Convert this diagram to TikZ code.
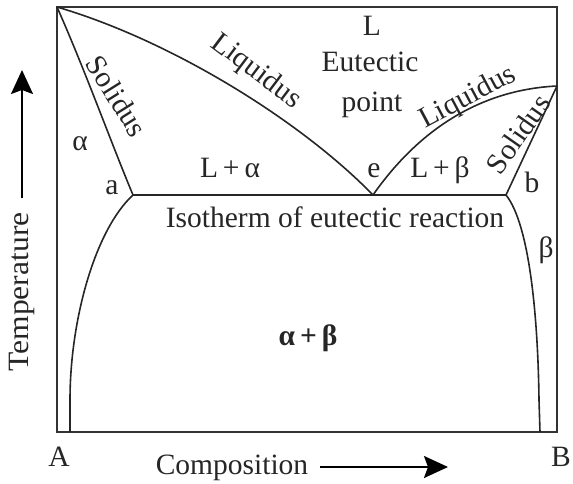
\documentclass[tikz,border=0pt]{standalone}
\usepackage{fontspec}
\setmainfont{Liberation Serif}
\usetikzlibrary{arrows.meta}
\begin{document}
\begin{tikzpicture}[x=1pt,y=-1pt,
  ink/.style={draw=black!85, line width=1.6pt},
  frame/.style={draw=black!80, line width=2.2pt},
  lab/.style={inner sep=0pt, anchor=base, font=\fontsize{29.5}{30}\selectfont, text=black!85},
  rlab/.style={inner sep=0pt, anchor=center, font=\fontsize{29.5}{30}\selectfont, text=black!85},
  axarrow/.style={draw=black, line width=2pt, -{Stealth[length=24pt,width=22pt,inset=4pt]}}]
\useasboundingbox (0,0) rectangle (573,484);
% key points
\coordinate (TL) at (57,7);
\coordinate (TR) at (557,7);
\coordinate (BL) at (57,432);
\coordinate (BR) at (557,432);
\coordinate (Bm) at (557,86);
\coordinate (a) at (133,195);
\coordinate (e) at (373,195);
\coordinate (b) at (506,195);
\coordinate (aL) at (70,432);
\coordinate (bR) at (540,432);
% frame
\draw[frame] (TL) -- (TR) -- (BR) -- (BL) -- cycle;
% liquidus
\draw[ink] (TL) .. controls (170,40) and (300,120) .. (e);
\draw[ink] (e) .. controls (415,135) and (475,90) .. (Bm);
% solidus
\draw[ink] (TL) .. controls (85,70) and (112,145) .. (a);
\draw[ink] (Bm) -- (b);
% isotherm
\draw[ink] (a) -- (b);
% solvus
\draw[ink] (a) .. controls (95,230) and (70,320) .. (70,400) -- (aL);
\draw[ink] (b) .. controls (530,225) and (538,320) .. (539,400) -- (bR);
% labels
\node[lab] (L) at (372,36) {L};
\node[lab] (eut) at (370,72) {Eutectic};
\node[lab] (pt) at (372,112) {point};
\node[lab] (iso) at (335,227) {Isotherm of eutectic reaction};
\node[lab] (La) at (230,177) {L\,+\,α};
\node[lab] (el) at (374,177) {e};
\node[lab] (Lb) at (440,178) {L\,+\,β};
\node[lab] (al) at (112,194) {a};
\node[lab] (bl) at (532,193) {b};
\node[lab] (alpha) at (80,150) {α};
\node[lab] (beta) at (546,257) {β};
\node[lab, font=\fontsize{29.5}{30}\selectfont\bfseries] (ab) at (308,345) {α\,+\,β};
\node[rlab, rotate=-58] (sol1) at (117,96) {Solidus};
\node[rlab, rotate=-37] (liq1) at (256,72) {Liquidus};
\node[rlab, rotate=28] (liq2) at (468,98) {Liquidus};
\node[rlab, rotate=55] (sol2) at (518,134) {Solidus};
\node[lab] (A) at (59,466) {A};
\node[lab] (B) at (561,466) {B};
\node[lab] (comp) at (232,474) {Composition};
\node[rlab, rotate=90] (temp) at (22,292) {\scalebox{1.07}[1]{Temperature}};
% axis arrows
\coordinate (t0) at (22,198);
\coordinate (t1) at (22,70);
\coordinate (c0) at (320,467);
\coordinate (c1) at (448,467);
\draw[axarrow] (t0) -- (t1);
\draw[axarrow] (c0) -- (c1);
\end{tikzpicture}
\end{document}
